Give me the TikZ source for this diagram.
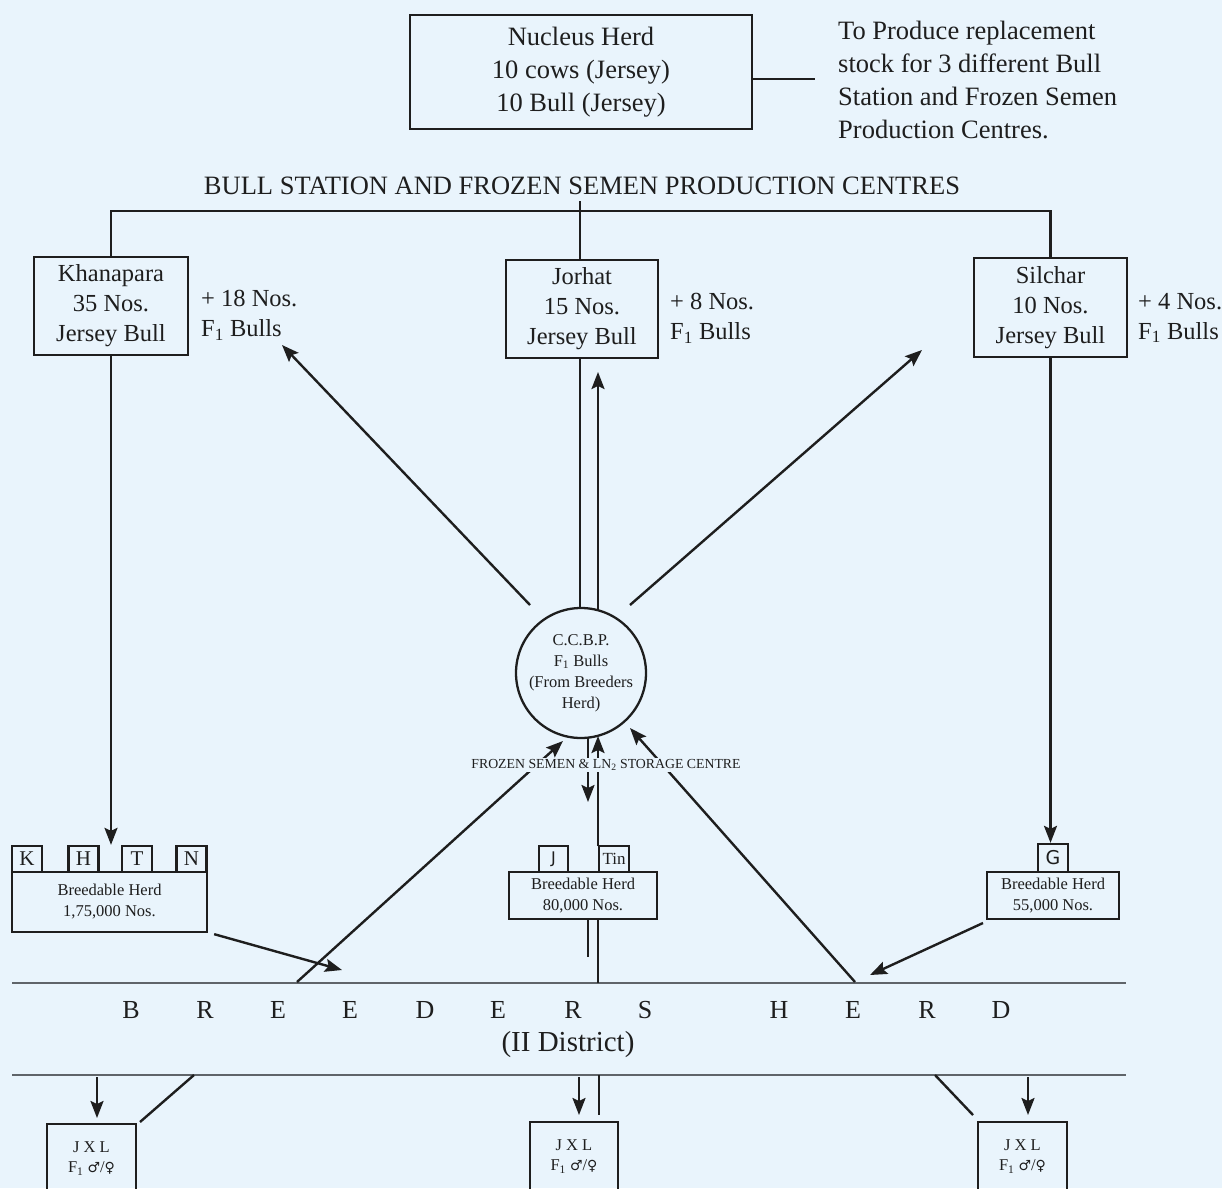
\documentclass[tikz,border=0pt]{standalone}
\usepackage{fontspec}
\setmainfont{Liberation Serif}
\newfontfamily\symfont{DejaVu Sans}
\usetikzlibrary{arrows.meta,calc}
\definecolor{bgc}{RGB}{233,244,252}
\definecolor{ink}{RGB}{30,30,30}
\definecolor{rulec}{RGB}{95,100,105}
\begin{document}
\begin{tikzpicture}[x=1pt,y=-1pt,
  ln/.style={line width=2.4pt, draw=ink},
  arr/.style={ln, -{Stealth[length=17pt,width=13pt,inset=3pt]}},
  box/.style={draw=ink, line width=2.3pt, rectangle, inner sep=0pt, align=center, text=ink},
  lbl/.style={inner sep=0pt, align=left, text=ink},
  tag/.style={box, minimum width=30, minimum height=26, font=\fontsize{21}{21}\selectfont},
  brk/.style={draw=rulec, line width=2pt},
  big/.style={font=\fontsize{24.5}{30}\selectfont},
  small/.style={font=\fontsize{16.5}{21}\selectfont},
]
\fill[bgc] (0,0) rectangle (1222,1188);
\useasboundingbox (0,0) rectangle (1222,1188);

% Nucleus herd
\node[box, minimum width=342, minimum height=114, font=\fontsize{26.5}{33}\selectfont] (nuc) at (581,72)
  {Nucleus Herd\\10 cows (Jersey)\\10 Bull (Jersey)};
\node[lbl, anchor=west, font=\fontsize{26.5}{33}\selectfont] (purpose) at (838,80)
  {To Produce replacement\\stock for 3 different Bull\\Station and Frozen Semen\\Production Centres.};
\coordinate (nucEnd) at (815,79);
\draw[ln] ([yshift=-7pt]nuc.east) -- (nucEnd);

% Header
\node[lbl, font=\fontsize{26.5}{30}\selectfont] (hdr) at (582,186) {BULL STATION AND FROZEN SEMEN PRODUCTION CENTRES};

% Bull stations
\node[box, big, minimum width=154, minimum height=98] (kh) at (111,306) {Khanapara\\35 Nos.\\Jersey Bull};
\node[box, big, minimum width=152, minimum height=98] (jo) at (582,309) {Jorhat\\15 Nos.\\Jersey Bull};
\node[box, big, minimum width=153, minimum height=99] (si) at (1050.5,307.5) {Silchar\\10 Nos.\\Jersey Bull};
\node[lbl, big, anchor=west] (khf) at (201,315) {+ 18 Nos.\\F\textsubscript{1} Bulls};
\node[lbl, big, anchor=west] (jof) at (670,318) {+ 8 Nos.\\F\textsubscript{1} Bulls};
\node[lbl, big, anchor=west] (sif) at (1138,318) {+ 4 Nos.\\F\textsubscript{1} Bulls};

\coordinate (topL) at (110,211);
\coordinate (hdrTop) at (580,201);
\draw[ln] (kh.north) -- (kh.north |- topL) -- (si.north |- topL) -- (si.north);
\draw[ln] (hdrTop) -- (hdrTop |- jo.north);

% Central circle
\node[draw=ink, line width=2.3pt, circle, minimum size=130, inner sep=0pt, align=center, text=ink,
  font=\fontsize{16.5}{21}\selectfont] (cc) at (581,673) {C.C.B.P.\\F\textsubscript{1} Bulls\\(From Breeders\\Herd)};

\coordinate (joDownTop) at (580,358);
\coordinate (joDownBot) at (580,608);
\draw[ln] (joDownTop) -- (joDownBot);
\coordinate (upStart) at (598,610);
\coordinate (upTip) at (598,372);
\draw[arr] (upStart) -- (upTip);
\coordinate (lA) at (530,605);
\coordinate (lAtip) at (282,345);
\draw[arr] (lA) -- (lAtip);
\coordinate (rA) at (630,605);
\coordinate (rAtip) at (922,350);
\draw[arr] (rA) -- (rAtip);

% Breedable herds
\node[box, small, minimum width=195, minimum height=60] (lb) at (109.5,902) {Breedable Herd\\1,75,000 Nos.};
\node[tag] (tK) at (27,859) {K};
\node[tag] (tH) at (83.5,859) {H};
\node[tag] (tT) at (137,859) {T};
\node[tag] (tN) at (191.5,859) {N};

\node[box, small, minimum width=148, minimum height=47] (mb) at (583,895.5) {Breedable Herd\\80,000 Nos.};
\node[tag, font=\symfont\fontsize{16}{16}\selectfont, minimum width=29] (tJ) at (553.5,859) {J};
\node[tag, font=\fontsize{17}{17}\selectfont] (tTin) at (614,859) {Tin};

\node[box, small, minimum width=132, minimum height=47] (rb) at (1053,895.5) {Breedable Herd\\55,000 Nos.};
\node[tag, font=\symfont\fontsize{19}{19}\selectfont, minimum height=28] (tG) at (1053,858) {G};

\draw[arr] (kh.south) -- (kh.south |- tH.north);
\draw[arr] (si.south) -- (si.south |- tG.north);

% Breeders herd lines
\coordinate (bL) at (12,983);
\coordinate (bR) at (1126,983);
\coordinate (dL) at (12,1075);
\coordinate (dR) at (1126,1075);
\draw[brk] (bL) -- (bR);
\draw[brk] (dL) -- (dR);

% Links to / from the circle
\coordinate (lLine) at (297,982);
\coordinate (lLineTip) at (563,741);
\draw[arr] (lLine) -- (lLineTip);
\coordinate (rLine) at (855,982);
\coordinate (rLineTip) at (630,728);
\draw[arr] (rLine) -- (rLineTip);
\coordinate (dnStart) at (588,738);
\coordinate (dnTip) at (588,802);
\draw[arr] (dnStart) -- (dnTip);
\coordinate (tinUp) at (598,846);
\coordinate (tinUpTip) at (598,736);
\draw[arr] (tinUp) -- (tinUpTip);
\coordinate (mStubA) at (588,919);
\coordinate (mStubB) at (588,957);
\draw[line width=1.6pt, draw=ink] (mStubA) -- (mStubB);
\coordinate (mB) at (598,919);
\draw[ln] (mB) -- (mB |- bL);

\node[fill=bgc, inner sep=1.5pt, text=ink, font=\fontsize{13.8}{14}\selectfont] (fs) at (606,765)
  {FROZEN SEMEN \& LN\textsubscript{2} STORAGE CENTRE};

% arrows from breedable herds to breeders line
\coordinate (lbTip) at (342,970);
\draw[arr] ([xshift=6pt,yshift=-1pt]lb.south east) -- (lbTip);
\coordinate (rbStart) at (983,923);
\coordinate (rbTip) at (870,975);
\draw[arr] (rbStart) -- (rbTip);

% BREEDERS HERD text
\foreach \x/\l [count=\i] in {131/B,205/R,278/E,350/E,425/D,498/E,573/R,645/S,779/H,853/E,927/R,1001/D}
  \node[text=ink, inner sep=0pt, font=\fontsize{26}{26}\selectfont] (bh\i) at (\x,1010) {\l};
\node[text=ink, inner sep=0pt, font=\fontsize{29}{29}\selectfont] (dist) at (568,1045) {(II District)};

% Bottom boxes
\node[box, minimum width=89, minimum height=80] (b1) at (91.5,1164) {};
\node[box, minimum width=88, minimum height=80] (b2) at (574,1162) {};
\node[box, minimum width=89, minimum height=80] (b3) at (1022.5,1162) {};
\foreach \n in {b1,b2,b3}
  \node[text=ink, inner sep=0pt, align=center, font=\fontsize{16.5}{20}\selectfont, anchor=north]
    (\n t) at ([yshift=-19pt]\n.north) {J X L\\F\textsubscript{1} {\symfont\fontsize{14}{14}\selectfont ♂}/{\symfont\fontsize{14}{14}\selectfont ♀}};

\coordinate (a1s) at (97,1077);
\coordinate (a1t) at (97,1118);
\draw[arr] (a1s) -- (a1t);
\coordinate (d1s) at (194,1075);
\coordinate (d1t) at (140,1122);
\draw[ln] (d1s) -- (d1t);
\coordinate (a2s) at (579,1077);
\coordinate (a2t) at (579,1115);
\draw[arr] (a2s) -- (a2t);
\coordinate (l2s) at (599,1075);
\coordinate (l2t) at (599,1115);
\draw[ln] (l2s) -- (l2t);
\coordinate (d3s) at (935,1075);
\coordinate (d3t) at (973,1115);
\draw[ln] (d3s) -- (d3t);
\coordinate (a3s) at (1028,1077);
\coordinate (a3t) at (1028,1115);
\draw[arr] (a3s) -- (a3t);
\end{tikzpicture}
\end{document}
